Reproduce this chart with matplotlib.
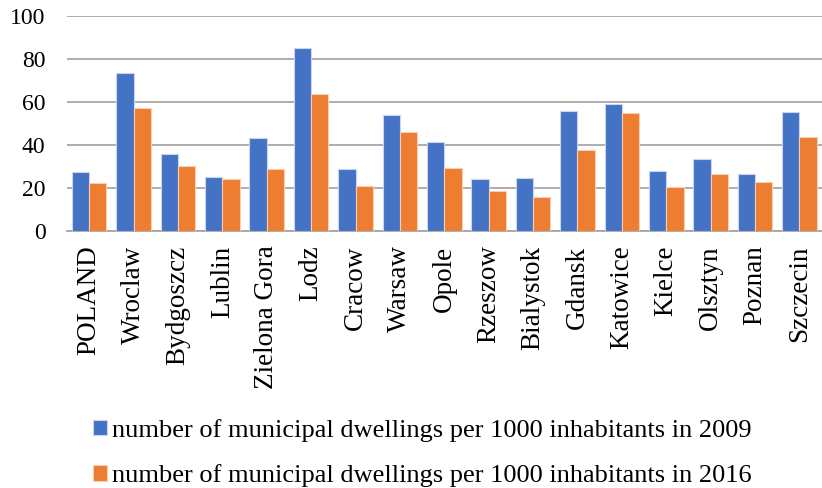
import matplotlib.pyplot as plt
import numpy as np

plt.rcParams['font.family'] = ['Liberation Serif', 'DejaVu Serif']

# data
cities = ['POLAND', 'Wroclaw', 'Bydgoszcz', 'Lublin', 'Zielona Gora', 'Lodz',
          'Cracow', 'Warsaw', 'Opole', 'Rzeszow', 'Bialystok', 'Gdansk',
          'Katowice', 'Kielce', 'Olsztyn', 'Poznan', 'Szczecin']
values_2009 = [27.4, 73.5, 35.6, 24.9, 43.2, 85.1, 28.5, 53.7, 41.3, 24.3,
               24.6, 55.9, 58.7, 27.6, 33.3, 26.6, 55.4]
values_2016 = [22.3, 57.0, 29.9, 24.1, 28.5, 63.6, 20.6, 45.7, 29.1, 18.6,
               15.5, 37.6, 54.6, 20.3, 26.3, 22.9, 43.5]
label_2009 = 'number of municipal dwellings per 1000 inhabitants in 2009'
label_2016 = 'number of municipal dwellings per 1000 inhabitants in 2016'

fig = plt.figure(figsize=(8.22, 4.88), dpi=100)
ax = fig.add_axes([0.0815, 0.527, 0.918, 0.441])

x = np.arange(len(cities))
w = 0.39
ax.bar(x - w / 2, values_2009, w, color='#4472C4', edgecolor='#c9d6ee',
       linewidth=0.8, label=label_2009, zorder=3)
ax.bar(x + w / 2, values_2016, w, color='#ED7D31', edgecolor='#f8cfb3',
       linewidth=0.8, label=label_2016, zorder=3)

ax.set_xlim(-0.5, len(cities) - 0.5)
ax.set_ylim(0, 100)
ax.set_yticks(range(0, 101, 20))
ax.yaxis.grid(True, color='#a0a0a0', linewidth=1.2, zorder=0)
for s in ['top', 'right', 'left']:
    ax.spines[s].set_visible(False)
ax.spines['bottom'].set_color('#a0a0a0')
ax.spines['bottom'].set_linewidth(1.2)
ax.tick_params(axis='both', length=0)
ax.tick_params(axis='y', pad=15.5, labelsize=17)
ax.tick_params(axis='x', pad=10.5, labelsize=19.5)
ax.set_xticks(x)
ax.set_xticklabels(cities, rotation=90)

fig.legend(loc='upper left', bbox_to_anchor=(0.0975, 0.169), ncol=1, frameon=False,
           fontsize=19, handlelength=0.53, handleheight=0.53, handletextpad=0.19,
           labelspacing=0.86, borderpad=0)

fig.savefig('out.png', dpi=100)
